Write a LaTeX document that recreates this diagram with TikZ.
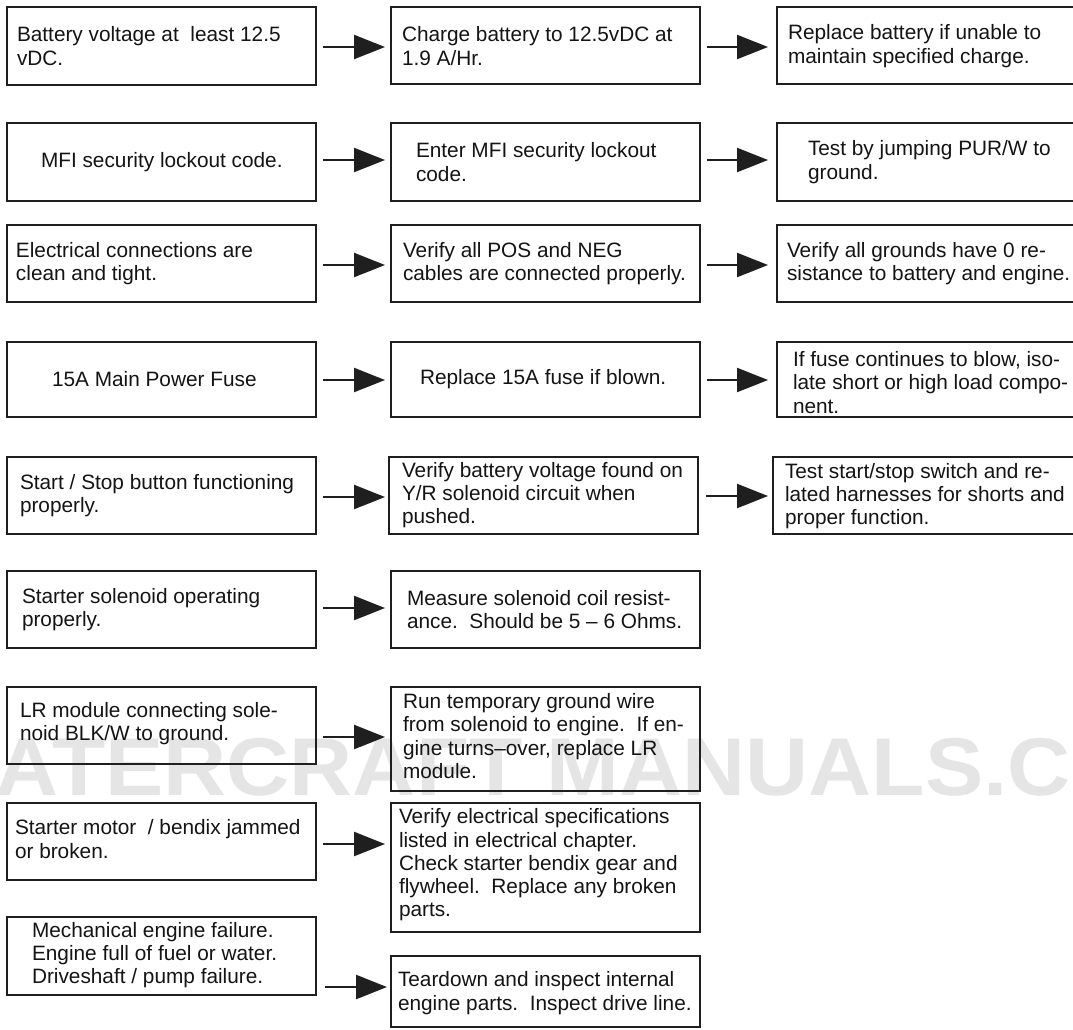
\documentclass[tikz,border=0pt]{standalone}
\usepackage{fontspec}
\setmainfont{Liberation Sans}
\usetikzlibrary{arrows.meta}
\begin{document}
\begin{tikzpicture}[x=1pt,y=-1pt,
  box/.style={draw=black!88, line width=2.6pt, outer sep=0pt, inner sep=0pt, rectangle},
  txt/.style={inner sep=0pt, outer sep=0pt, align=left, text=black!92, font=\fontsize{20.8pt}{23.3pt}\selectfont},
  arr/.style={draw=black!88, line width=2.4pt, -{Triangle[length=31pt,width=24pt]}},
  wm/.style={inner sep=0pt, outer sep=0pt, text=black!10, font=\fontsize{82pt}{90pt}\selectfont\bfseries}]
\clip (0,0) rectangle (1073,1029);
\fill[white] (0,0) rectangle (1073,1029);
% watermark
\node[wm, anchor=base west, xscale=1.065] (wm) at (-82,795) {WATERCRAFT MANUALS.COM};
% column 1 boxes
\node[box, minimum width=309pt, minimum height=78pt] (a1) at (161.5,46) {};
\node[box, minimum width=309pt, minimum height=78pt] (a2) at (161.5,162) {};
\node[box, minimum width=309pt, minimum height=77pt] (a3) at (161.5,263.5) {};
\node[box, minimum width=309pt, minimum height=75pt] (a4) at (161.5,379.5) {};
\node[box, minimum width=309pt, minimum height=77pt] (a5) at (161.5,495.5) {};
\node[box, minimum width=309pt, minimum height=77pt] (a6) at (161.5,609.5) {};
\node[box, minimum width=309pt, minimum height=77pt] (a7) at (161.5,725.5) {};
\node[box, minimum width=309pt, minimum height=77pt] (a8) at (161.5,841.5) {};
\node[box, minimum width=309pt, minimum height=78pt] (a9) at (161.5,956) {};
% column 2 boxes
\node[box, minimum width=309pt, minimum height=77pt] (b1) at (545.5,45.5) {};
\node[box, minimum width=309pt, minimum height=78pt] (b2) at (545.5,162) {};
\node[box, minimum width=309pt, minimum height=77pt] (b3) at (545.5,263.5) {};
\node[box, minimum width=309pt, minimum height=75pt] (b4) at (545.5,379.5) {};
\node[box, minimum width=309pt, minimum height=77pt] (b5) at (543.5,495.5) {};
\node[box, minimum width=309pt, minimum height=77pt] (b6) at (545.5,609.5) {};
\node[box, minimum width=309pt, minimum height=104pt] (b7) at (545.5,739) {};
\node[box, minimum width=309pt, minimum height=129pt] (b8) at (545.5,867.5) {};
\node[box, minimum width=309pt, minimum height=71pt] (b9) at (545.5,991.5) {};
% column 3 boxes
\node[box, minimum width=299pt, minimum height=77pt] (c1) at (926.5,45.5) {};
\node[box, minimum width=299pt, minimum height=78pt] (c2) at (926.5,162) {};
\node[box, minimum width=299pt, minimum height=77pt] (c3) at (926.5,263.5) {};
\node[box, minimum width=299pt, minimum height=75pt] (c4) at (926.5,379.5) {};
\node[box, minimum width=303pt, minimum height=77pt] (c5) at (924.5,495.5) {};
% column 1 texts
\node[txt, anchor=west] (a1t) at (17,46) {Battery voltage at~~least 12.5\\vDC.};
\node[txt, anchor=west] (a2t) at (41,162) {MFI security lockout code.};
\node[txt, anchor=west] (a3t) at (16,263.5) {Electrical connections are\\clean and tight.};
\node[txt, anchor=west] (a4t) at (52,379.5) {15A Main Power Fuse};
\node[txt, anchor=west] (a5t) at (20,495.5) {Start / Stop button functioning\\properly.};
\node[txt, anchor=west] (a6t) at (22,609.5) {Starter solenoid operating\\properly.};
\node[txt, anchor=west] (a7t) at (20,723.5) {LR module connecting sole-\\noid BLK/W to ground.};
\node[txt, anchor=west] (a8t) at (15,839) {Starter motor~~/ bendix jammed\\or broken.};
\node[txt, anchor=west] (a9t) at (32,955) {Mechanical engine failure.\\Engine full of fuel or water.\\Driveshaft / pump failure.};
% column 2 texts
\node[txt, anchor=west] (b1t) at (402,46) {Charge battery to 12.5vDC at\\1.9 A/Hr.};
\node[txt, anchor=west] (b2t) at (416,162) {Enter MFI security lockout\\code.};
\node[txt, anchor=west] (b3t) at (403,263.5) {Verify all POS and NEG\\cables are connected properly.};
\node[txt, anchor=west] (b4t) at (420,379.5) {Replace 15A fuse if blown.};
\node[txt, anchor=west] (b5t) at (402,495) {Verify battery voltage found on\\Y/R solenoid circuit when\\pushed.};
\node[txt, anchor=west] (b6t) at (407,609.5) {Measure solenoid coil resist-\\ance.~~Should be 5 – 6 Ohms.};
\node[txt, anchor=west] (b7t) at (403,736) {Run temporary ground wire\\from solenoid to engine.~~If en-\\gine turns–over, replace LR\\module.};
\node[txt, anchor=west] (b8t) at (399,865) {Verify electrical specifications\\listed in electrical chapter.\\Check starter bendix gear and\\flywheel.~~Replace any broken\\parts.};
\node[txt, anchor=west] (b9t) at (398,993) {Teardown and inspect internal\\engine parts.~~Inspect drive line.};
% column 3 texts
\node[txt, anchor=west] (c1t) at (788,46) {Replace battery if unable to\\maintain specified charge.};
\node[txt, anchor=west] (c2t) at (808,162) {Test by jumping PUR/W to\\ground.};
\node[txt, anchor=west] (c3t) at (787,263.5) {Verify all grounds have 0 re-\\sistance to battery and engine.};
\node[txt, anchor=west] (c4t) at (793,382.5) {If fuse continues to blow, iso-\\late short or high load compo-\\nent.};
\node[txt, anchor=west] (c5t) at (785,496) {Test start/stop switch and re-\\lated harnesses for shorts and\\proper function.};
% arrows column 1 -> column 2
\draw[arr] ([xshift=7pt,yshift=-1pt]a1.east) -- ([xshift=-6pt,yshift=-1.5pt]b1.west);
\draw[arr] ([xshift=7pt,yshift=2pt]a2.east) -- ([xshift=-6pt,yshift=2pt]b2.west);
\draw[arr] ([xshift=7pt,yshift=-1.5pt]a3.east) -- ([xshift=-6pt,yshift=-1.5pt]b3.west);
\draw[arr] ([xshift=7pt,yshift=-0.5pt]a4.east) -- ([xshift=-6pt,yshift=-0.5pt]b4.west);
\draw[arr] ([xshift=7pt,yshift=-1.5pt]a5.east) -- ([xshift=-4pt,yshift=-1.5pt]b5.west);
\draw[arr] ([xshift=7pt,yshift=1.5pt]a6.east) -- ([xshift=-6pt,yshift=1.5pt]b6.west);
\draw[arr] ([xshift=7pt,yshift=-11.5pt]a7.east) -- ([xshift=-6pt,yshift=2pt]b7.west);
\draw[arr] ([xshift=7pt,yshift=-2.5pt]a8.east) -- ([xshift=-6pt,yshift=23.5pt]b8.west);
\draw[arr] ([xshift=9pt,yshift=-31pt]a9.east) -- ([xshift=-4pt,yshift=4.5pt]b9.west);
% arrows column 2 -> column 3
\draw[arr] ([xshift=7pt,yshift=-1.5pt]b1.east) -- ([xshift=-9pt,yshift=-1.5pt]c1.west);
\draw[arr] ([xshift=7pt,yshift=2pt]b2.east) -- ([xshift=-9pt,yshift=2pt]c2.west);
\draw[arr] ([xshift=7pt,yshift=-1.5pt]b3.east) -- ([xshift=-9pt,yshift=-1.5pt]c3.west);
\draw[arr] ([xshift=7pt,yshift=-0.5pt]b4.east) -- ([xshift=-9pt,yshift=-0.5pt]c4.west);
\draw[arr] ([xshift=8pt,yshift=-0.5pt]b5.east) -- ([xshift=-5pt,yshift=-0.5pt]c5.west);
\end{tikzpicture}
\end{document}
